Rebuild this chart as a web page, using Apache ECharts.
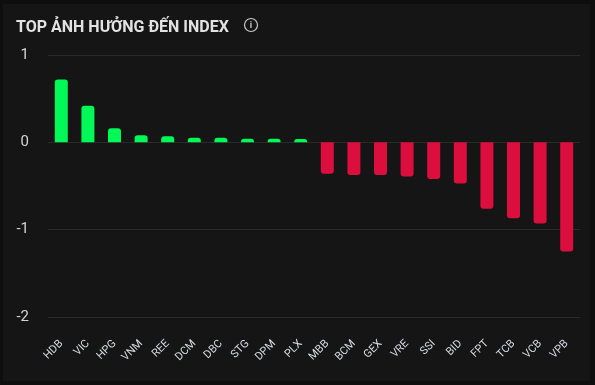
<!DOCTYPE html>
<html><head><meta charset="utf-8">
<script src="https://cdn.jsdelivr.net/npm/echarts@6/dist/echarts.min.js"></script>
<style>html,body{margin:0;padding:0;background:#0e0e0e;}#c{width:595px;height:385px;}</style>
</head><body><div id="c"></div>
<script>
const categories = ['HDB','VIC','HPG','VNM','REE','DCM','DBC','STG','DPM','PLX','MBB','BCM','GEX','VRE','SSI','BID','FPT','TCB','VCB','VPB'];
const values = [0.72,0.42,0.16,0.08,0.07,0.053,0.053,0.042,0.042,0.038,-0.36,-0.375,-0.375,-0.39,-0.42,-0.47,-0.76,-0.87,-0.93,-1.25];
const yTicks = [-2,-1,0,1];
const titleText = 'TOP ẢNH HƯỞNG ĐẾN INDEX';

const chart = echarts.init(document.getElementById('c'), null, {renderer:'canvas'});
chart.setOption({
  backgroundColor: '#0e0e0e',
  animation: false,
  graphic: [
    {type:'rect', shape:{x:3,y:4,width:587,height:377}, style:{fill:'#151515'}, z:-10},
    {type:'circle', shape:{cx:251,cy:25,r:6.5}, style:{fill:'none',stroke:'#c8c8c8',lineWidth:1.2}, z:10},
    {type:'text', style:{x:251,y:25.5,text:'i',fill:'#c8c8c8',font:'bold 9px Roboto',align:'center',verticalAlign:'middle'}, z:10}
  ],
  title: {
    text: titleText, left: 16, top: 18, padding: 0,
    textStyle: {color:'#e2e2e2', fontSize:16, fontWeight:'bold', fontFamily:'Roboto', lineHeight:20}
  },
  grid: {left:48, right:15, top:55, bottom:68, containLabel:false},
  xAxis: {
    type:'category', data: categories, position:'bottom',
    axisLine:{show:false}, axisTick:{show:false},
    axisLabel:{rotate:45, color:'#d6dbe4', fontSize:11, fontFamily:'Roboto', margin:25, interval:0}
  },
  yAxis: {
    type:'value', min:yTicks[0], max:yTicks[yTicks.length-1], interval:1,
    axisLine:{show:false}, axisTick:{show:false},
    axisLabel:{color:'#d4d4d4', fontSize:15, fontFamily:'Roboto', margin:19},
    splitLine:{lineStyle:{color:'#2a2a2a', width:1}}
  },
  series: [{
    type:'bar', barWidth:13,
    data: values.map(v => ({
      value: v,
      itemStyle: {
        color: v >= 0 ? '#00f957' : '#dc0e3e',
        borderRadius: v >= 0 ? [3,3,0,0] : [0,0,3,3]
      }
    }))
  }]
});
</script></body></html>
